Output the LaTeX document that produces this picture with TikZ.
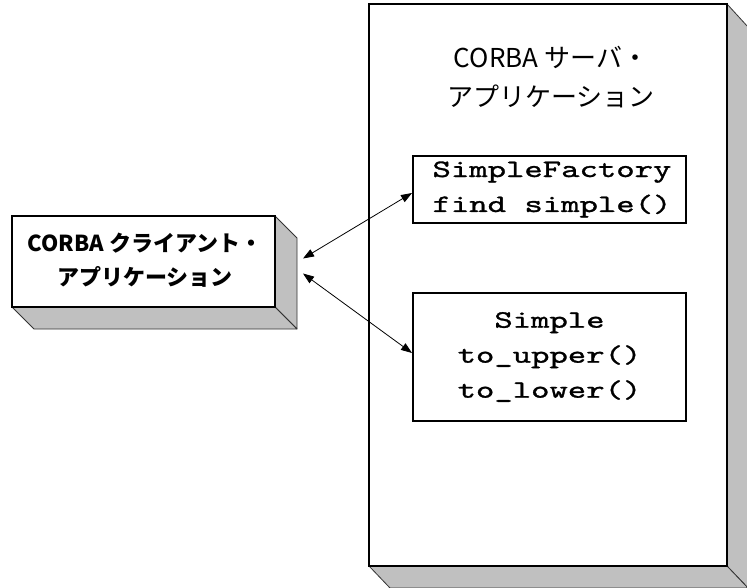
\documentclass[tikz,border=0pt]{standalone}
\usepackage{fontspec}
\newfontfamily\codefont[FakeStretch=1.4, FakeBold=1.2]{lmmono10-regular.otf}
\newfontfamily\jpfont{Noto Sans CJK JP}
\usetikzlibrary{arrows.meta,calc}
\definecolor{sidegray}{RGB}{192,192,192}
\tikzset{
  frontbox/.style={draw=black, line width=1.6pt, fill=white, inner sep=0pt, outer sep=0pt},
  sideface/.style={draw=black!80, line width=0.8pt, fill=sidegray, line join=round},
  classbox/.style={draw=black, line width=1.2pt, fill=white, inner sep=0pt, outer sep=0pt},
  classtext/.style={font=\codefont\fontsize{25}{35}\selectfont, align=center},
  apptext/.style={align=center},
  link/.style={{Triangle[length=11pt,width=8pt]}-{Triangle[length=11pt,width=8pt]}, line width=0.8pt}
}
\begin{document}
\begin{tikzpicture}[x=1pt, y=-1pt]
\useasboundingbox (0,0) rectangle (747,588);
\clip (0,0) rectangle (747,588);

% server process block
\node[frontbox, minimum width=358pt, minimum height=562pt] (server) at (548,285) {};
\coordinate (sNEb) at ($(server.north east)+(21,23)$);
\coordinate (sSEb) at ($(server.south east)+(21,22)$);
\coordinate (sSWb) at ($(server.south west)+(21,22)$);
% its shaded depth faces
\filldraw[sideface] (server.north east) -- (sNEb) -- (sSEb) -- (server.south east) -- cycle;
\filldraw[sideface] (server.south west) -- (sSWb) -- (sSEb) -- (server.south east) -- cycle;
\draw[black, line width=1.6pt] (server.north west) rectangle (server.south east);

\node[apptext, font=\jpfont\fontsize{26}{39}\selectfont] (servertitle) at (551,77) {CORBA サーバ・\\アプリケーション};

% client process block
\node[frontbox, minimum width=263pt, minimum height=91pt] (client) at (143.5,261.5) {};
\coordinate (cNEb) at ($(client.north east)+(22,22)$);
\coordinate (cSEb) at ($(client.south east)+(22,22)$);
\coordinate (cSWb) at ($(client.south west)+(22,22)$);
% its shaded depth faces
\filldraw[sideface] (client.north east) -- (cNEb) -- (cSEb) -- (client.south east) -- cycle;
\filldraw[sideface] (client.south west) -- (cSWb) -- (cSEb) -- (client.south east) -- cycle;
\draw[black, line width=1.6pt] (client.north west) rectangle (client.south east);

\node[apptext, font=\jpfont\bfseries\fontsize{22}{34}\selectfont] (clienttitle) at (145,260) {CORBA クライアント・\\アプリケーション};

% server objects
\node[classbox, minimum width=273pt, minimum height=67pt] (factory) at (549.5,189.5) {};
\node[classtext] (factorytext) at (552,189.5) {SimpleFactory\\find simple()};

\node[classbox, minimum width=273pt, minimum height=128pt] (simple) at (549.5,357) {};
\node[classtext] (simpletext) at (549.5,357) {Simple\\to\_upper()\\to\_lower()};

% request paths between client and objects
\coordinate (c1) at ($(client.east)+(28,-3)$);
\coordinate (c2) at ($(client.east)+(28,12)$);
\coordinate (f1) at ($(factory.west)+(-1,3.5)$);
\coordinate (s1) at ($(simple.west)+(-1,-4)$);
\draw[link] (c1) -- (f1);
\draw[link] (c2) -- (s1);
\end{tikzpicture}
\end{document}
